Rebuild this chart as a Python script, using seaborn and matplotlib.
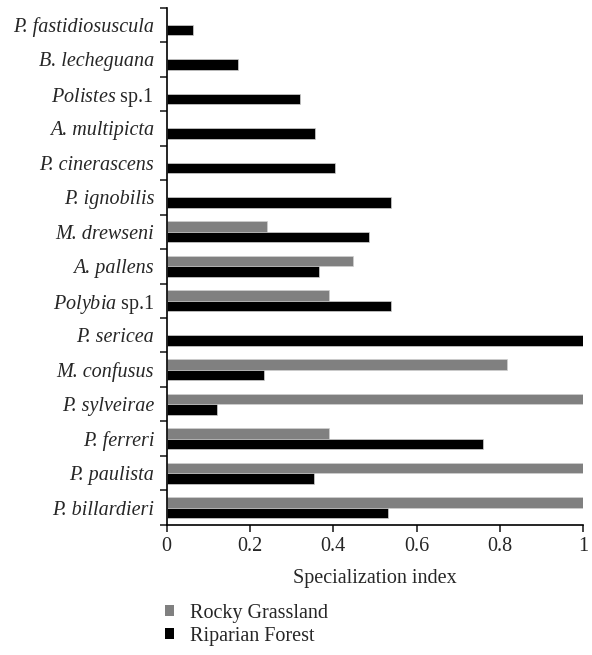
import matplotlib
matplotlib.use("Agg")
import matplotlib.pyplot as plt
import seaborn as sns
import pandas as pd
import numpy as np
from matplotlib.patches import Patch

species = ["P. fastidiosuscula", "B. lecheguana", "Polistes sp.1", "A. multipicta",
           "P. cinerascens", "P. ignobilis", "M. drewseni", "A. pallens",
           "Polybia sp.1", "P. sericea", "M. confusus", "P. sylveirae",
           "P. ferreri", "P. paulista", "P. billardieri"]
rocky = [np.nan, np.nan, np.nan, np.nan, np.nan, np.nan, 0.241, 0.448,
         0.389, np.nan, 0.817, 1.0, 0.389, 1.0, 1.0]
riparian = [0.064, 0.170, 0.319, 0.355, 0.404, 0.539, 0.486, 0.366,
            0.539, 1.0, 0.233, 0.121, 0.759, 0.353, 0.532]
habitats = ["Rocky Grassland", "Riparian Forest"]
colors = ["#808080", "#000000"]

df = pd.DataFrame({
    "species": species * 2,
    "value": rocky + riparian,
    "habitat": [habitats[0]] * len(species) + [habitats[1]] * len(species),
}).dropna()

sns.set_style("white")
plt.rcParams["font.family"] = ["Liberation Serif", "DejaVu Serif"]
plt.rcParams["mathtext.fontset"] = "custom"
plt.rcParams["mathtext.it"] = "Liberation Serif:italic"
plt.rcParams["mathtext.rm"] = "Liberation Serif"

FS = 14.5

fig = plt.figure(figsize=(5.92, 6.55), dpi=100)
ax = fig.add_axes([0.2816, 0.1985, 0.7037, 0.79])

sns.barplot(data=df, y="species", x="value", hue="habitat", order=species,
            hue_order=habitats, palette=colors, orient="h", width=0.62,
            errorbar=None, legend=False, ax=ax, edgecolor="#d0d0d0", linewidth=0.5)

ax.set_xlim(0, 1)
ax.set_ylim(len(species) - 0.5, -0.5)
ax.set_xticks([0, 0.2, 0.4, 0.6, 0.8, 1.0])
ax.set_xticklabels(["0", "0.2", "0.4", "0.6", "0.8", "1"], fontsize=FS)
ax.set_xlabel("Specialization index", fontsize=FS, labelpad=9)
ax.set_ylabel("")

labels = []
for s in species:
    if s.endswith("sp.1"):
        g = s.split(" ")[0]
        labels.append(r"$\mathit{" + g + r"}$ sp.1")
    else:
        labels.append(s)
ax.set_yticks(range(len(species)))
ax.set_yticklabels(labels, fontsize=FS)
for lab, s in zip(ax.get_yticklabels(), species):
    if not s.endswith("sp.1"):
        lab.set_fontstyle("italic")
ax.tick_params(axis="y", which="major", length=0, pad=9)
ax.set_yticks(np.arange(-0.5, len(species), 1.0), minor=True)
ax.tick_params(axis="y", which="minor", length=5, width=1.2, direction="out", left=True)
ax.tick_params(axis="x", which="major", length=5, width=1.2, direction="out", bottom=True, pad=4)

for side in ["top", "right"]:
    ax.spines[side].set_visible(False)
for side in ["left", "bottom"]:
    ax.spines[side].set_color("black")
    ax.spines[side].set_linewidth(1.2)

handles = [Patch(facecolor=c, edgecolor="none") for c in colors]
fig.legend(handles, habitats, loc="upper left", bbox_to_anchor=(0.279, 0.078),
           frameon=False, fontsize=FS, handlelength=0.45, handleheight=0.45,
           handletextpad=0.8, labelspacing=0.2, borderaxespad=0, borderpad=0)

fig.savefig("out.png", dpi=100)
